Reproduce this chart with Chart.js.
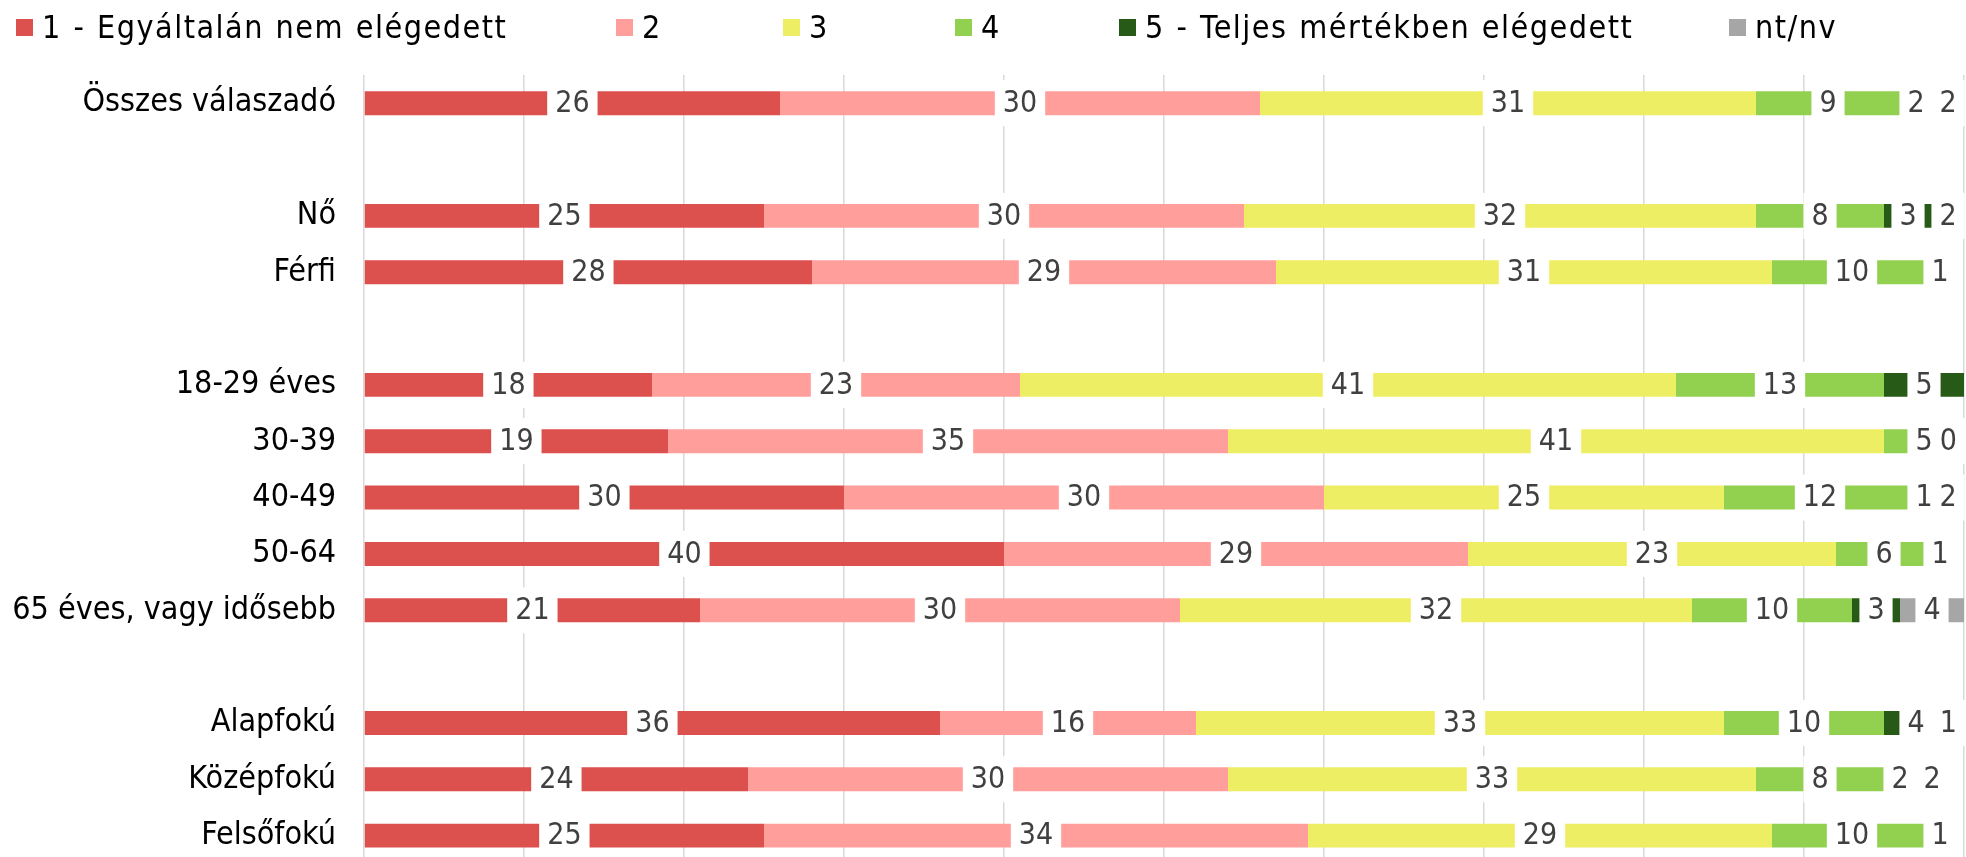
<!DOCTYPE html>
<html>
<head>
<meta charset="utf-8">
<script src="https://cdn.jsdelivr.net/npm/chart.js@4.4.1/dist/chart.umd.min.js"></script>
<style>
    html, body { margin: 0; padding: 0; background: #fff; overflow: hidden; }
    #wrap { position: relative; width: 1966px; height: 911px; }
    #legend { position: absolute; left: 0; top: 0; width: 1966px; height: 60px; }
    .item { position: absolute; top: 8px; height: 38px; display: flex; align-items: center; white-space: nowrap;
            font-family: "DejaVu Sans Condensed", "DejaVu Sans", sans-serif; font-size: 32px; color: #000;
            letter-spacing: 1.5px; word-spacing: 1px; }
    .box { width: 17px; height: 17px; margin-right: 9px; }
</style>
</head>
<body>
<div id="wrap">
    <div id="legend"></div>
    <canvas id="satisfactionChart" width="1966" height="911"></canvas>
</div>
<script>
// categories (empty strings are the gaps between groups)
const categories = ['Összes válaszadó', '', 'Nő', 'Férfi', '', '18-29 éves', '30-39', '40-49', '50-64',
    '65 éves, vagy idősebb', '', 'Alapfokú', 'Középfokú', 'Felsőfokú'];
const seriesNames = ['1 - Egyáltalán nem elégedett', '2', '3', '4', '5 - Teljes mértékben elégedett', 'nt/nv'];

// percentages per answer
const score1 = [26, null, 25, 28, null, 18, 19, 30, 40, 21, null, 36, 24, 25];
const score2 = [30, null, 30, 29, null, 23, 35, 30, 29, 30, null, 16, 30, 34];
const score3 = [31, null, 32, 31, null, 41, 41, 25, 23, 32, null, 33, 33, 29];
const score4 = [9, null, 8, 10, null, 13, 5, 12, 6, 10, null, 10, 8, 10];
const score5 = [2, null, 3, 1, null, 5, 0, 1, 1, 3, null, 4, 2, 1];
const noAnswer = [2, null, 2, null, null, null, null, 2, null, 4, null, 1, 2, null];

const colors = ['#dc514e', '#ff9e9b', '#eeee64', '#92d050', '#285a17', '#a6a6a6'];
const legendLeft = [16, 616, 783, 955, 1119, 1729];

const FONT = '"DejaVu Sans Condensed", "DejaVu Sans", sans-serif';

// legend
const legendEl = document.getElementById('legend');
seriesNames.forEach(function(name, i) {
    const item = document.createElement('div');
    item.className = 'item';
    item.style.left = legendLeft[i] + 'px';
    item.innerHTML = '<div class="box" style="background:' + colors[i] + '"></div>';
    item.appendChild(document.createTextNode(name));
    legendEl.appendChild(item);
});

// value labels with white box, centred on each segment
const boxLabels = {
    id: 'boxLabels',
    afterDatasetsDraw(chart) {
        const ctx = chart.ctx;
        const area = chart.chartArea;
        const labels = [];
        ctx.save();
        ctx.font = '30px ' + FONT;
        chart.data.datasets.forEach(function(ds, i) {
            chart.getDatasetMeta(i).data.forEach(function(bar, j) {
                const v = ds.data[j];
                if (v === null || v === undefined) return;
                const text = String(v);
                const w = ctx.measureText(text).width + 16;
                let x = (bar.x + bar.base) / 2;
                x = Math.min(x, area.right + 1 - w / 2);
                labels.push({ text: text, x: x, y: bar.y, w: w });
            });
        });
        ctx.fillStyle = '#fff';
        labels.forEach(function(l) { ctx.fillRect(l.x - l.w / 2, l.y - 23, l.w, 46); });
        ctx.fillStyle = '#404040';
        ctx.textAlign = 'center';
        ctx.textBaseline = 'middle';
        labels.forEach(function(l) { ctx.fillText(l.text, l.x, l.y + 1); });
        ctx.restore();
    }
};

const series = [score1, score2, score3, score4, score5, noAnswer];

const ctxChart = document.getElementById('satisfactionChart').getContext('2d');
const satisfactionChart = new Chart(ctxChart, {
    type: 'bar',
    data: {
        labels: categories,
        datasets: series.map(function(values, i) {
            return {
                label: seriesNames[i],
                data: values,
                backgroundColor: colors[i],
                borderWidth: 0,
                barPercentage: 0.425,
                categoryPercentage: 1
            };
        })
    },
    options: {
        indexAxis: 'y',
        responsive: false,
        animation: false,
        layout: { padding: { top: 75, right: 2, bottom: 0, left: 0 } },
        plugins: {
            legend: { display: false },
            tooltip: { enabled: false }
        },
        scales: {
            x: {
                stacked: true,
                min: 0,
                max: 100,
                ticks: { display: false, stepSize: 10 },
                grid: { color: '#d9d9d9', lineWidth: 1.5, drawTicks: false },
                border: { display: false },
                afterFit: function(s) { s.height = 0; }
            },
            y: {
                stacked: true,
                grid: { display: false, drawTicks: false },
                border: { display: false },
                ticks: { color: '#000', font: { family: FONT, size: 32 }, padding: 28, autoSkip: false },
                afterFit: function(s) { s.width = 364; }
            }
        }
    },
    plugins: [boxLabels]
});
</script>
</body>
</html>
